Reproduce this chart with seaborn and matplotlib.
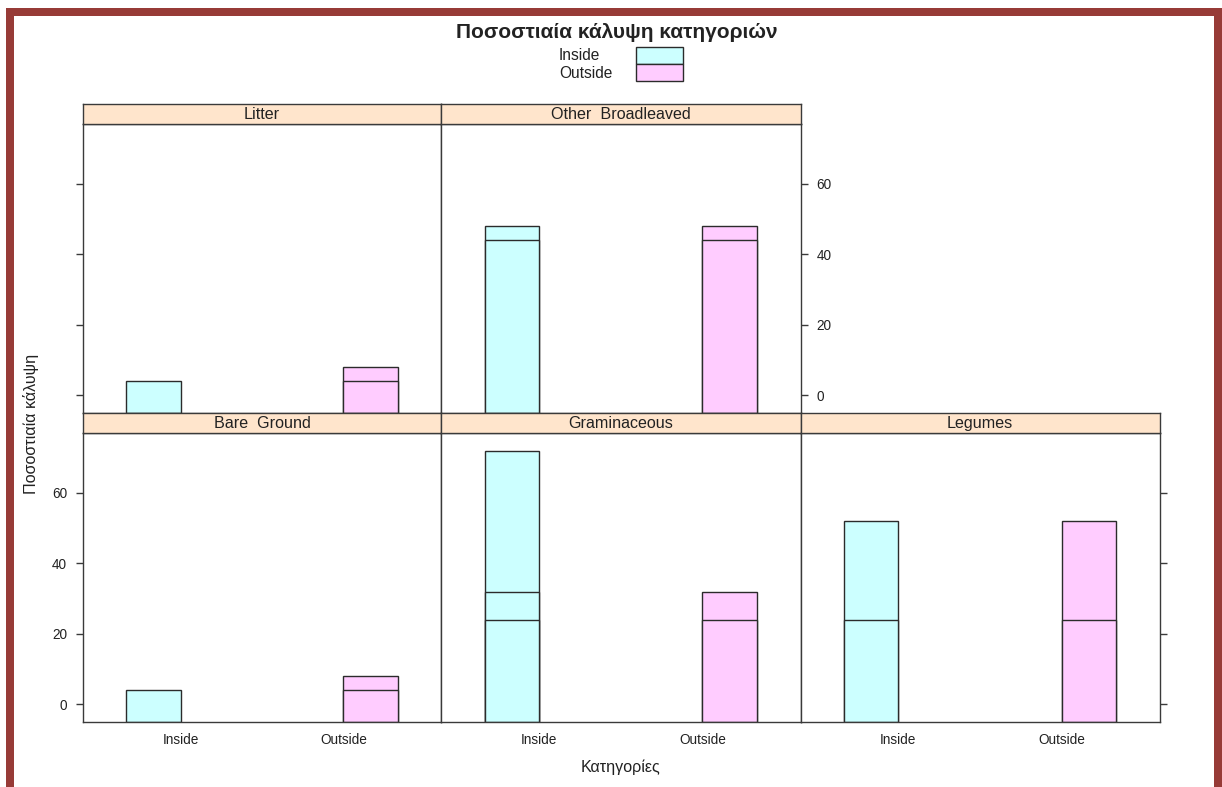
import matplotlib
matplotlib.use("Agg")
import matplotlib.pyplot as plt
from matplotlib.patches import Rectangle
import pandas as pd
import seaborn as sns

TITLE = "Ποσοστιαία κάλυψη κατηγοριών"
X_LABEL = "Κατηγορίες"
Y_LABEL = "Ποσοστιαία κάλυψη"

CATEGORIES = ["Inside", "Outside"]
GROUPS = ["Inside", "Outside"]
PANELS = ["Litter", "Other  Broadleaved", "Bare  Ground", "Graminaceous", "Legumes"]

# Cover records per panel; several records share one bar slot and overlap
INSIDE_VALUES = [[4], [48, 44], [4], [72, 32, 24], [52, 24]]
OUTSIDE_VALUES = [[8, 4], [48, 44], [8, 4], [32, 24], [52, 24]]

Y_TICKS = [0, 20, 40, 60]

# ---- styling -------------------------------------------------------------
W, H = 1222, 787
FILL = {"Inside": "#CCFFFF", "Outside": "#FFCCFF"}
EDGE = "#2b2b2b"
AXIS = "#3a3a3a"
STRIP = "#FFE5CC"
FRAME = "#973B37"
FONT = ["Liberation Sans", "DejaVu Sans"]

sns.set_theme(style="white")
plt.rcParams["font.family"] = FONT
plt.rcParams["text.color"] = "#222222"
plt.rcParams["xtick.color"] = AXIS
plt.rcParams["ytick.color"] = AXIS
plt.rcParams["xtick.labelcolor"] = "#222222"
plt.rcParams["ytick.labelcolor"] = "#222222"


def box(x0, y0, x1, y1):
    """Pixel box (top-left origin) -> figure fraction rectangle."""
    return [x0 / W, 1 - y1 / H, (x1 - x0) / W, (y1 - y0) / H]


# ---- long-form data ------------------------------------------------------
rows = []
for panel, ins, outs in zip(PANELS, INSIDE_VALUES, OUTSIDE_VALUES):
    for grp, vals in (("Inside", ins), ("Outside", outs)):
        for rank, v in enumerate(sorted(vals, reverse=True)):
            rows.append(dict(panel=panel, cat=grp, group=grp, value=v, layer=rank))
df = pd.DataFrame(rows)

lo, hi = 0, df["value"].max()
pad = 0.07 * (hi - lo)
Y_LIM = (lo - pad, hi + pad)
# bars rise from the lower edge of the panel, as in a trellis bar chart
df["span"] = df["value"] - Y_LIM[0]

# ---- layout --------------------------------------------------------------
COL_X = [83, 441, 800.5, 1159.5]
ROWS = {0: (104, 124, 413), 1: (413, 433, 722)}   # strip top, panel top, panel bottom
PLACE = {
    "Litter": (0, 0),
    "Other  Broadleaved": (0, 1),
    "Bare  Ground": (1, 0),
    "Graminaceous": (1, 1),
    "Legumes": (1, 2),
}
ROW_LAST_COL = {0: 1, 1: 2}

fig = plt.figure(figsize=(W / 100, H / 100), dpi=100)
fig.patch.set_facecolor("white")

for panel in PANELS:
    r, c = PLACE[panel]
    s_top, p_top, p_bot = ROWS[r]
    x0, x1 = COL_X[c], COL_X[c + 1]

    ax = fig.add_axes(box(x0, p_top, x1, p_bot))
    sub = df[df["panel"] == panel]
    for layer in sorted(sub["layer"].unique()):
        part = sub[sub["layer"] == layer]
        sns.barplot(
            data=part, x="cat", y="span", hue="group",
            order=CATEGORIES, hue_order=GROUPS, palette=FILL,
            dodge=True, width=2 / 3, saturation=1, errorbar=None,
            legend=False, bottom=Y_LIM[0], edgecolor=EDGE, linewidth=1.0,
            ax=ax,
        )
    ax.set_xlim(-0.6, len(CATEGORIES) - 0.4)
    ax.set_ylim(*Y_LIM)
    ax.set_xlabel("")
    ax.set_ylabel("")
    ax.set_yticks(Y_TICKS)
    for sp in ax.spines.values():
        sp.set_color(AXIS)
        sp.set_linewidth(1.0)

    first, last = c == 0, c == ROW_LAST_COL[r]
    ax.tick_params(axis="y", direction="out", length=5, width=1.0, pad=6.5,
                   labelsize=9.8,
                   left=first, right=last,
                   labelleft=(first and r == 1), labelright=(last and r == 0))
    if r == 1:
        ax.tick_params(axis="x", length=0, pad=8, labelsize=9.8)
    else:
        ax.tick_params(axis="x", length=0, labelbottom=False)

    # strip with panel name
    sx = fig.add_axes(box(x0, s_top, x1, p_top))
    sx.set_facecolor(STRIP)
    sx.set_xticks([])
    sx.set_yticks([])
    for sp in sx.spines.values():
        sp.set_color(AXIS)
        sp.set_linewidth(1.0)
    sx.text(0.5, 0.46, panel, ha="center", va="center", fontsize=11.6,
            transform=sx.transAxes)

# ---- titles ----------------------------------------------------------------
fig.text(617 / W, 1 - 32 / H, TITLE, ha="center", va="center",
         fontsize=15, fontweight="bold")
fig.text(621 / W, 1 - 767 / H, X_LABEL, ha="center", va="center", fontsize=11.6)
fig.text(31 / W, 1 - 424 / H, Y_LABEL, ha="center", va="center",
         rotation=90, fontsize=11.6)

# ---- key -----------------------------------------------------------------
key_top, key_h = 47, 17
for i, grp in enumerate(GROUPS):
    y0 = key_top + i * key_h
    fig.add_artist(Rectangle((636 / W, 1 - (y0 + key_h) / H), 47 / W, key_h / H,
                             transform=fig.transFigure, facecolor=FILL[grp],
                             edgecolor=EDGE, linewidth=1.0))
    fig.text(559 / W, 1 - (y0 + key_h / 2 + 0.5) / H, grp, ha="left",
             va="center", fontsize=11.2)

# ---- outer frame ---------------------------------------------------------
for (bx0, by0, bx1, by1) in [(6, 8, 14, 787), (6, 8, 1222, 16), (1214, 8, 1222, 787)]:
    fig.add_artist(Rectangle((bx0 / W, 1 - by1 / H), (bx1 - bx0) / W, (by1 - by0) / H,
                             transform=fig.transFigure, facecolor=FRAME,
                             edgecolor="none"))

fig.savefig("out.png", dpi=100, facecolor="white")
